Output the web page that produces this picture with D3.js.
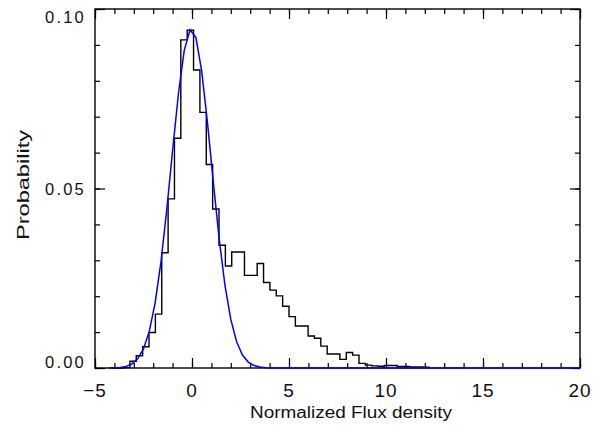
<!DOCTYPE html>
<html>
<head>
<meta charset="utf-8">
<script src="https://cdn.jsdelivr.net/npm/d3@7"></script>
<style>
  html, body { margin: 0; padding: 0; background: #fff; }
  svg { display: block; }
  text { font-family: "Liberation Sans", Arial, sans-serif; fill: #111; }
</style>
</head>
<body>
<svg id="chart" width="604" height="425"></svg>
<script>
// ---- data ----
const binWidth = 0.328;
const binCenters = [-4.02, -3.692, -3.364, -3.036, -2.708, -2.38, -2.052, -1.724, -1.396, -1.068,
  -0.74, -0.412, -0.084, 0.244, 0.572, 0.9, 1.228, 1.556, 1.884, 2.212,
  2.54, 2.868, 3.196, 3.524, 3.852, 4.18, 4.508, 4.836, 5.164, 5.492,
  5.82, 6.148, 6.476, 6.804, 7.132, 7.46, 7.788, 8.116, 8.444, 8.772,
  9.1, 9.428, 9.756, 10.084, 10.412, 10.74, 11.068, 11.396, 11.724, 12.052];
const histProb = [0, 0, 0.0001, 0.0019, 0.0034, 0.0059, 0.0099, 0.0150, 0.0321, 0.0471,
  0.0640, 0.0914, 0.0941, 0.0830, 0.0712, 0.0567, 0.0443, 0.0342, 0.0284, 0.0323,
  0.0323, 0.0258, 0.0258, 0.0291, 0.0238, 0.0217, 0.0201, 0.0172, 0.0143, 0.0117,
  0.0117, 0.0089, 0.0083, 0.0061, 0.0039, 0.0039, 0.0024, 0.0043, 0.0036, 0.0013,
  0.0008, 0.0006, 0.0005, 0.0007, 0.0007, 0.0004, 0.0004, 0.0003, 0.0003, 0.0002];
const fitX = [-4.3, -4.0, -3.7, -3.4, -3.1, -2.8, -2.5, -2.2, -1.9, -1.6, -1.3, -1.0, -0.7, -0.4, -0.1,
  0.2, 0.5, 0.8, 1.1, 1.4, 1.7, 2.0, 2.3, 2.6, 2.9, 3.2, 3.5, 3.8, 4.1, 4.4, 20];
const fitProb = [0.00002, 0.00006, 0.00017, 0.00045, 0.00111, 0.00254, 0.00532, 0.01026, 0.01816, 0.02954,
  0.04414, 0.06059, 0.0764, 0.0885, 0.09418, 0.09208, 0.0827, 0.06823, 0.05171, 0.036,
  0.02303, 0.01354, 0.00731, 0.00362, 0.00165, 0.00069, 0.00027, 0.00009, 0.00003, 0.00001, 0];
const xTickValues = [-5, 0, 5, 10, 15, 20];
const xTickLabels = ["\u22125", "0", "5", "10", "15", "20"];
const yTickValues = [0, 0.05, 0.10];
const yTickLabels = ["0.00", "0.05", "0.10"];
const xTitle = "Normalized Flux density";
const yTitle = "Probability";

// ---- layout ----
const L = 95, R = 580, T = 9, B = 368;
const svg = d3.select("#chart");
const x = d3.scaleLinear().domain([-5, 20]).range([L, R]);
const y = d3.scaleLinear().domain([0, 0.10]).range([B, T]);

// frame
svg.append("rect").attr("x", L).attr("y", T).attr("width", R - L).attr("height", B - T)
  .attr("fill", "none").attr("stroke", "#000").attr("stroke-width", 1.4);

// ticks via axes (inward)
const xMinor = d3.range(-5, 20.001, 1);
const yMinor = d3.range(0, 0.1001, 0.01);
function addAxis(axis, transform) {
  const g = svg.append("g").attr("transform", transform).call(axis);
  g.select(".domain").remove();
  g.selectAll("text").remove();
  g.selectAll("line").attr("stroke", "#000").attr("stroke-width", 1.2);
  return g;
}
addAxis(d3.axisBottom(x).tickValues(xMinor).tickSizeInner(-5).tickSizeOuter(0), `translate(0,${B})`);
addAxis(d3.axisBottom(x).tickValues(xTickValues).tickSizeInner(-10).tickSizeOuter(0), `translate(0,${B})`);
addAxis(d3.axisTop(x).tickValues(xMinor).tickSizeInner(-5).tickSizeOuter(0), `translate(0,${T})`);
addAxis(d3.axisTop(x).tickValues(xTickValues).tickSizeInner(-10).tickSizeOuter(0), `translate(0,${T})`);
addAxis(d3.axisLeft(y).tickValues(yMinor).tickSizeInner(-5).tickSizeOuter(0), `translate(${L},0)`);
addAxis(d3.axisLeft(y).tickValues(yTickValues).tickSizeInner(-10).tickSizeOuter(0), `translate(${L},0)`);
addAxis(d3.axisRight(y).tickValues(yMinor).tickSizeInner(-5).tickSizeOuter(0), `translate(${R},0)`);
addAxis(d3.axisRight(y).tickValues(yTickValues).tickSizeInner(-10).tickSizeOuter(0), `translate(${R},0)`);

// histogram step path
const pts = [];
pts.push([x(binCenters[0] - binWidth / 2), y(0)]);
binCenters.forEach((c, i) => {
  pts.push([x(c - binWidth / 2), y(histProb[i])]);
  pts.push([x(c + binWidth / 2), y(histProb[i])]);
});
pts.push([x(binCenters[binCenters.length - 1] + binWidth / 2), y(0)]);
svg.append("path")
  .attr("d", d3.line()(pts))
  .attr("fill", "none").attr("stroke", "#000").attr("stroke-width", 1.4)
  .attr("stroke-linejoin", "miter");

// fit curve (on top)
svg.append("path")
  .datum(fitX.map((v, i) => [v, fitProb[i]]))
  .attr("d", d3.line().x(d => x(d[0])).y(d => y(d[1])))
  .attr("fill", "none").attr("stroke", "#0000ff").attr("stroke-width", 1.5);

// x tick labels
svg.append("g").selectAll("text").data(xTickValues).join("text")
  .attr("x", d => x(d)).attr("y", 396.5)
  .attr("text-anchor", "middle")
  .style("font-size", "19px").style("letter-spacing", "1px")
  .text((d, i) => xTickLabels[i]);

// y tick labels (IDL shifts end labels inside)
const yLabelBase = [0, 6, 13.5];
svg.append("g").selectAll("text").data(yTickValues).join("text")
  .attr("x", 86).attr("y", (d, i) => y(d) + yLabelBase[i])
  .attr("text-anchor", "end")
  .style("font-size", "16.5px").style("letter-spacing", "2.2px")
  .text((d, i) => yTickLabels[i]);

// titles
svg.append("text").attr("x", 250).attr("y", 418)
  .attr("textLength", 202).attr("lengthAdjust", "spacingAndGlyphs")
  .style("font-size", "16px").text(xTitle);
svg.append("text")
  .attr("transform", "translate(29,240) rotate(-90)")
  .attr("textLength", 110).attr("lengthAdjust", "spacingAndGlyphs")
  .style("font-size", "16px").text(yTitle);
</script>
</body>
</html>
